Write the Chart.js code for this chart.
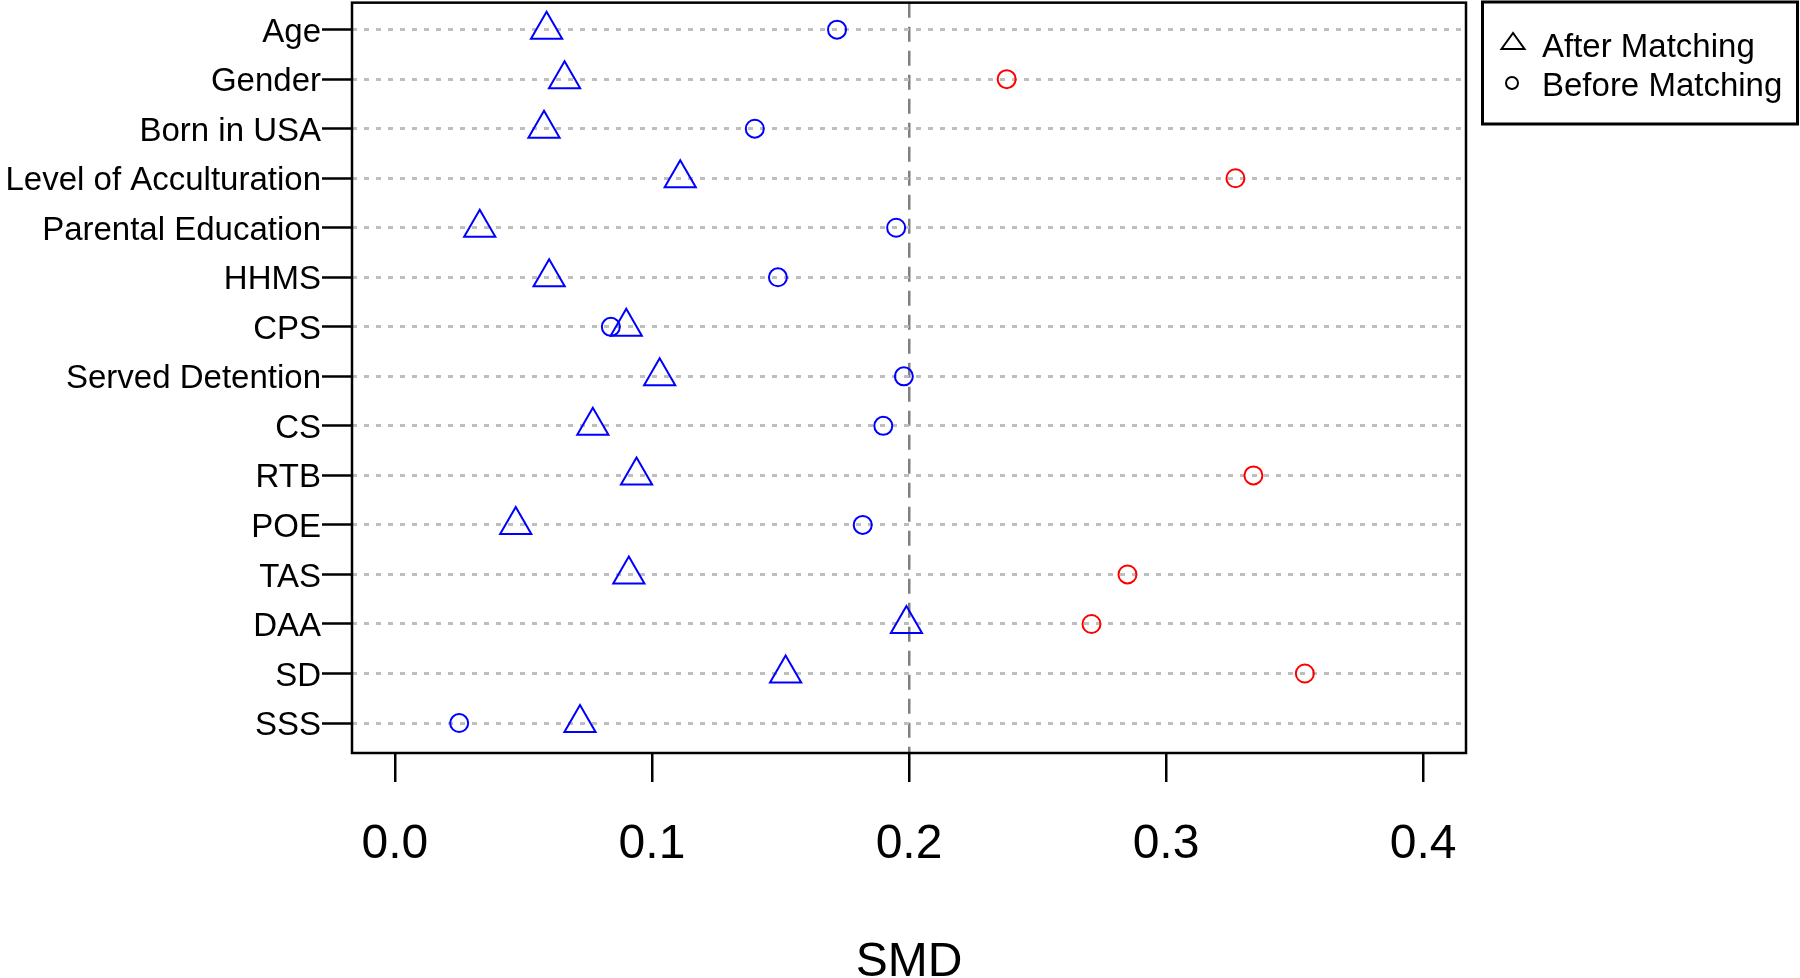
<!DOCTYPE html>
<html>
<head>
<meta charset="utf-8">
<title>SMD before / after matching</title>
<script src="https://cdn.jsdelivr.net/npm/chart.js@4/dist/chart.umd.min.js"></script>
<style>
  html, body { margin: 0; padding: 0; background: #fff; }
  #wrap { width: 1800px; height: 978px; }
</style>
</head>
<body>
<div id="wrap"><canvas id="smdChart" width="1800" height="978"></canvas></div>
<script>
// covariates, top to bottom
const variables = ['Age', 'Gender', 'Born in USA', 'Level of Acculturation', 'Parental Education',
  'HHMS', 'CPS', 'Served Detention', 'CS', 'RTB', 'POE', 'TAS', 'DAA', 'SD', 'SSS'];

// standardized mean differences
const smdAfter  = [0.059, 0.066, 0.058, 0.111, 0.033, 0.060, 0.090, 0.103, 0.077, 0.094, 0.047, 0.091, 0.199, 0.152, 0.072];
const smdBefore = [0.172, 0.238, 0.140, 0.327, 0.195, 0.149, 0.084, 0.198, 0.190, 0.334, 0.182, 0.285, 0.271, 0.354, 0.025];

const xTicks = [0, 0.1, 0.2, 0.3, 0.4];
const threshold = 0.2;

const n = variables.length;
const FONT = '"Liberation Sans", Arial, sans-serif';

// plot frame + legend box (R style)
const framePlugin = {
  id: 'frameAndKey',
  afterDraw(chart) {
    const ctx = chart.ctx;
    const a = chart.chartArea;
    ctx.save();
    ctx.strokeStyle = '#000';
    ctx.lineWidth = 2.5;
    ctx.strokeRect(a.left, a.top, a.right - a.left, a.bottom - a.top);

    // legend
    ctx.lineWidth = 3;
    ctx.strokeRect(1482.5, 2, 315, 122);
    ctx.font = '33px ' + FONT;
    ctx.fillStyle = '#000';
    ctx.textBaseline = 'alphabetic';
    ctx.lineWidth = 2;
    chart.data.datasets.forEach((ds, i) => {
      const cy = 42 + i * 39;
      ctx.beginPath();
      if (ds.pointStyle === 'triangle') {
        ctx.moveTo(1513, cy - 9);
        ctx.lineTo(1501.5, cy + 7);
        ctx.lineTo(1524.5, cy + 7);
        ctx.closePath();
      } else {
        ctx.arc(1512, cy + 2, 6, 0, Math.PI * 2);
      }
      ctx.stroke();
      ctx.fillText(ds.label, 1542, cy + 15);
    });
    ctx.restore();
  }
};

new Chart(document.getElementById('smdChart'), {
  type: 'scatter',
  data: {
    datasets: [{
      label: 'After Matching',
      data: variables.map((v, i) => ({ x: smdAfter[i], y: n - i })),
      pointStyle: 'triangle',
      pointRadius: 18,
      pointHoverRadius: 18,
      pointBorderColor: '#0000ff',
      pointBackgroundColor: 'rgba(0,0,0,0)',
      pointBorderWidth: 2
    }, {
      label: 'Before Matching',
      data: variables.map((v, i) => ({ x: smdBefore[i], y: n - i })),
      pointStyle: 'circle',
      pointRadius: 9,
      pointHoverRadius: 9,
      pointBorderColor: smdBefore.map(v => v > threshold ? '#ff0000' : '#0000ff'),
      pointBackgroundColor: 'rgba(0,0,0,0)',
      pointBorderWidth: 2
    }]
  },
  options: {
    responsive: false,
    animation: false,
    devicePixelRatio: 1,
    layout: { autoPadding: false, padding: { top: 2, right: 334, left: 0, bottom: 0 } },
    plugins: {
      legend: { display: false },
      tooltip: { enabled: false }
    },
    scales: {
      x: {
        type: 'linear',
        min: -0.0167,
        max: 0.4167,
        afterBuildTicks: s => { s.ticks = xTicks.map(v => ({ value: v })); },
        afterFit: s => { s.height = 225; },
        ticks: {
          color: '#000',
          font: { family: FONT, size: 48 },
          padding: 34,
          maxRotation: 0,
          callback: v => Number(v).toFixed(1)
        },
        grid: {
          drawOnChartArea: true,
          color: c => (c.tick && c.tick.value === threshold) ? '#808080' : 'rgba(0,0,0,0)',
          lineWidth: 2.5,
          drawTicks: true,
          tickLength: 29,
          tickColor: '#000',
          tickWidth: 2.5
        },
        border: { display: false, dash: [15, 9] },
        title: {
          display: true,
          text: 'SMD',
          color: '#000',
          font: { family: FONT, size: 48 },
          padding: { top: 0, bottom: -14 }
        }
      },
      y: {
        type: 'linear',
        min: 0.395,
        max: 15.545,
        afterBuildTicks: s => { s.ticks = variables.map((v, i) => ({ value: n - i })); },
        afterFit: s => { s.width = 352; },
        ticks: {
          color: '#000',
          autoSkip: false,
          font: { family: FONT, size: 33, lineHeight: 0.1 },
          padding: 1,
          labelOffset: 3,
          callback: v => variables[n - v]
        },
        grid: {
          color: '#bebebe',
          lineWidth: 3,
          drawTicks: true,
          tickLength: 30,
          tickColor: '#000',
          tickWidth: 2.5
        },
        border: { display: false, dash: [5, 7] }
      }
    }
  },
  plugins: [framePlugin]
});
</script>
</body>
</html>
